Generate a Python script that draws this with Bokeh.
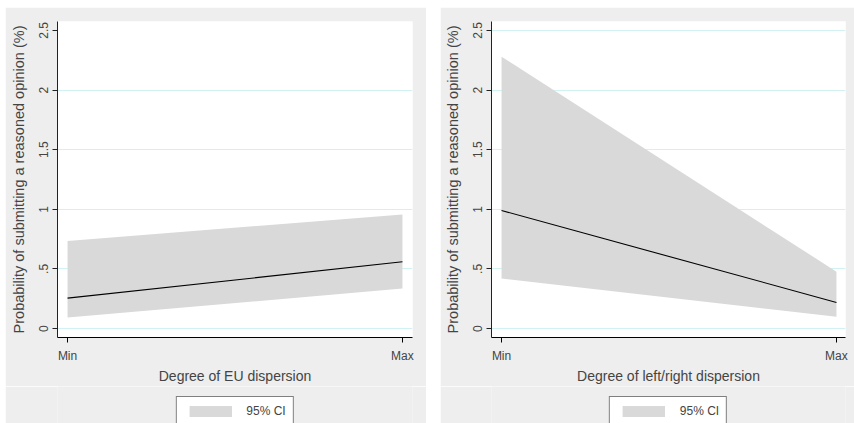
from bokeh.plotting import figure
from bokeh.models import (Range1d, FixedTicker, Legend, LegendItem, Spacer)
from bokeh.layouts import row, column
from bokeh.embed import file_html
from bokeh.resources import INLINE

# ---- data ----
x_cat = [0, 1]
x_labels = {0: "Min", 1: "Max"}
y_ticks = [0, 0.5, 1, 1.5, 2, 2.5]
y_tick_labels = {0: "0", 0.5: ".5", 1: "1", 1.5: "1.5", 2: "2", 2.5: "2.5"}

eu_line = [0.255, 0.56]
eu_lo = [0.092, 0.336]
eu_hi = [0.734, 0.957]

lr_line = [0.99, 0.219]
lr_lo = [0.42, 0.098]
lr_hi = [2.28, 0.477]

legend_label = "95% CI"
ytitle = "Probability of submitting a reasoned opinion (%)"
BG = "#eeeeee"
BAND = "#d9d9d9"
GRID = "#d2f1f3"
FONT = "Liberation Sans"


def panel(width, xtitle, line, lo, hi, grid_ticks, bl, br, xend):
    p = figure(width=width, height=379, output_backend="svg", toolbar_location=None,
               x_range=Range1d(-0.03, xend), y_range=Range1d(-0.075, 2.575),
               min_border_left=bl, min_border_right=br, min_border_top=14,
               min_border_bottom=48)
    p.background_fill_color = "white"
    p.border_fill_color = BG
    p.outline_line_color = None

    p.varea(x=x_cat, y1=lo, y2=hi, fill_color=BAND)
    p.line(x=x_cat, y=line, line_color="black", line_width=1.1)

    xa = p.xaxis[0]
    xa.ticker = FixedTicker(ticks=x_cat)
    xa.major_label_overrides = x_labels
    xa.axis_label = xtitle
    xa.axis_label_text_font = FONT
    xa.axis_label_text_font_size = "14px"
    xa.axis_label_text_font_style = "normal"
    xa.axis_label_standoff = 2
    xa.major_label_text_font = FONT
    xa.major_label_text_font_size = "12px"
    xa.major_label_standoff = 6
    xa.major_tick_out = 5
    xa.major_tick_in = 0
    xa.minor_tick_out = 0
    xa.axis_line_color = "black"
    xa.major_tick_line_color = "black"

    ya = p.yaxis[0]
    ya.ticker = FixedTicker(ticks=y_ticks)
    ya.major_label_overrides = y_tick_labels
    ya.major_label_orientation = "vertical"
    ya.axis_label = ytitle
    ya.axis_label_text_font = FONT
    ya.axis_label_text_font_size = "14.5px"
    ya.axis_label_text_font_style = "normal"
    ya.axis_label_standoff = 10
    ya.major_label_text_font = FONT
    ya.major_label_text_font_size = "12px"
    ya.major_label_standoff = 4
    ya.major_tick_out = 5
    ya.major_tick_in = 0
    ya.minor_tick_out = 0
    ya.axis_line_color = "#222222"
    ya.major_tick_line_color = "#222222"

    p.xgrid.visible = False
    p.ygrid.ticker = FixedTicker(ticks=grid_ticks)
    p.ygrid.grid_line_color = GRID
    p.ygrid.grid_line_width = 1

    # legend strip below the chart (frame aligned with the chart's frame)
    lg = figure(width=width, height=37, output_backend="svg", toolbar_location=None,
                x_range=Range1d(0, 1), y_range=Range1d(0, 1),
                x_axis_location=None, y_axis_location=None,
                min_border_left=bl, min_border_right=br, min_border_top=0,
                min_border_bottom=0)
    lg.background_fill_color = BG
    lg.border_fill_color = BG
    lg.outline_line_color = None
    lg.grid.visible = False
    dummy = lg.varea(x=[5, 6], y1=[0, 0], y2=[1, 1], fill_color=BAND)
    legend = Legend(items=[LegendItem(label=legend_label, renderers=[dummy])],
                    location="top_center", orientation="horizontal")
    legend.glyph_width = 53
    legend.glyph_height = 14
    legend.label_text_font = FONT
    legend.label_text_font_size = "12px"
    legend.label_standoff = 10
    legend.padding = 7
    legend.margin = 10
    legend.border_line_color = "black"
    legend.border_line_width = 1
    legend.background_fill_color = "white"
    legend.background_fill_alpha = 1
    lg.add_layout(legend, "center")
    return column(p, lg, spacing=0)


c1 = panel(421, "Degree of EU dispersion", eu_line, eu_lo, eu_hi,
           [0, 0.5, 1, 1.5, 2], 52, 14, 1.03)
c2 = panel(414, "Degree of left/right dispersion", lr_line, lr_lo, lr_hi,
           [0, 0.5, 1, 1.5, 2, 2.5], 51, 9, 1.027)

layout = column(Spacer(width=10, height=7),
                row(Spacer(width=5, height=10), c1, Spacer(width=14, height=10), c2))

open("out.html", "w").write(file_html(layout, INLINE))
